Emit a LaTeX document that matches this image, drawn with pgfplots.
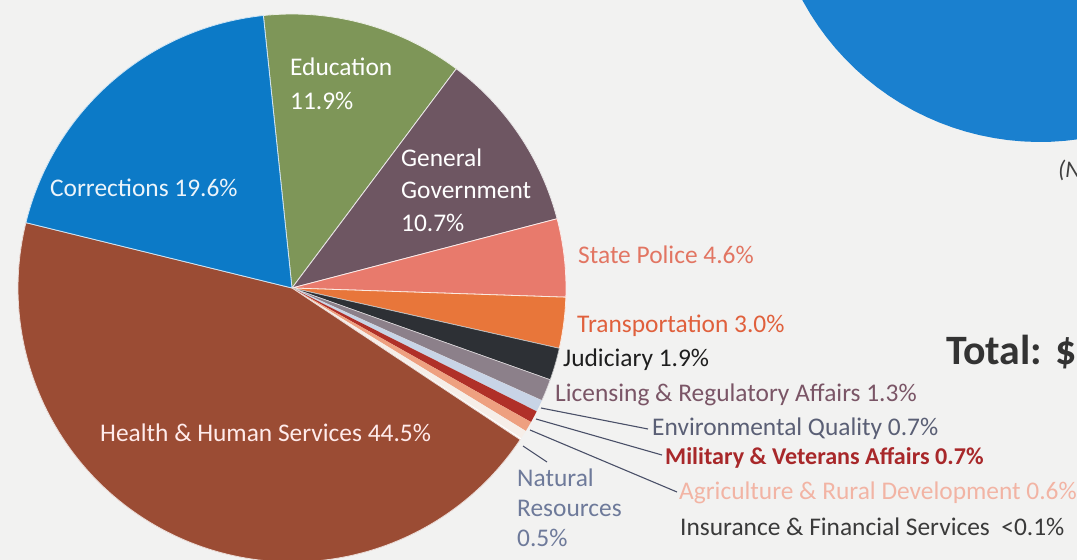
\documentclass[border=0pt]{standalone}
\usepackage{pgfplots}
\pgfplotsset{compat=1.18}
\usepackage{fontspec}
\setmainfont{Carlito}
\definecolor{bg}{RGB}{242,242,241}
\definecolor{cCor}{RGB}{12,122,199}
\definecolor{cEdu}{RGB}{126,150,88}
\definecolor{cGG}{RGB}{110,86,98}
\definecolor{cSP}{RGB}{232,122,108}
\definecolor{cTr}{RGB}{232,118,58}
\definecolor{cJud}{RGB}{45,48,53}
\definecolor{cLic}{RGB}{140,128,138}
\definecolor{cEnv}{RGB}{200,212,230}
\definecolor{cMil}{RGB}{176,48,40}
\definecolor{cAgr}{RGB}{238,160,128}
\definecolor{cNat}{RGB}{246,238,232}
\definecolor{cIns}{RGB}{255,255,255}
\definecolor{cHea}{RGB}{155,76,52}
\definecolor{cBlue}{RGB}{26,128,207}
\definecolor{tSP}{RGB}{226,117,98}
\definecolor{tTr}{RGB}{224,96,60}
\definecolor{tJud}{RGB}{30,30,30}
\definecolor{tLic}{RGB}{122,85,102}
\definecolor{tEnv}{RGB}{90,95,117}
\definecolor{tMil}{RGB}{168,40,42}
\definecolor{tAgr}{RGB}{242,180,164}
\definecolor{tIns}{RGB}{58,58,58}
\definecolor{tNat}{RGB}{110,122,154}
\definecolor{leader}{RGB}{74,80,104}
\begin{document}
\begin{tikzpicture}
% shares in percent, clockwise from the Corrections/Education boundary at 96 degrees
\pgfmathsetmacro\aA{96}
\pgfmathsetmacro\aB{\aA-11.9*3.6}% Education
\pgfmathsetmacro\aC{\aB-10.7*3.6}% General Government
\pgfmathsetmacro\aD{\aC-4.6*3.6}% State Police
\pgfmathsetmacro\aE{\aD-3.0*3.6}% Transportation
\pgfmathsetmacro\aF{\aE-1.9*3.6}% Judiciary
\pgfmathsetmacro\aG{\aF-1.3*3.6}% Licensing
\pgfmathsetmacro\aH{\aG-0.7*3.6}% Environmental Quality
\pgfmathsetmacro\aI{\aH-0.7*3.6}% Military
\pgfmathsetmacro\aJ{\aI-0.6*3.6}% Agriculture
\pgfmathsetmacro\aK{\aJ-0.5*3.6}% Natural Resources
\pgfmathsetmacro\aL{\aK-0.1*3.6}% Insurance
\pgfmathsetmacro\aM{\aL-44.5*3.6}% Health
\pgfmathsetmacro\aN{\aA-360}% Corrections (19.6)
\begin{axis}[scale only axis, width=1077bp, height=560bp,
  xmin=0, xmax=1077, ymin=0, ymax=560, y dir=reverse,
  hide axis, clip=false]
\fill[bg] (axis cs:0,0) rectangle (axis cs:1077,560);
\coordinate (BL) at (axis cs:0,560);
\coordinate (TR) at (axis cs:1077,0);
% other chart (cut off)
\addplot[fill=cBlue, draw=none, domain=0:360, samples=120] ({1040+270*cos(x)},{-128-270*sin(x)}) -- cycle;
% pie
\addplot[fill=cEdu, draw=white!85!cEdu, line width=0.8bp, domain=\aB:\aA, samples=40] ({292+274*cos(x)},{288-274*sin(x)}) -- (axis cs:292,288) -- cycle;
\addplot[fill=cGG, draw=white!85!cGG, line width=0.8bp, domain=\aC:\aB, samples=40] ({292+274*cos(x)},{288-274*sin(x)}) -- (axis cs:292,288) -- cycle;
\addplot[fill=cSP, draw=white!85!cSP, line width=0.8bp, domain=\aD:\aC, samples=20] ({292+274*cos(x)},{288-274*sin(x)}) -- (axis cs:292,288) -- cycle;
\addplot[fill=cTr, draw=white!85!cTr, line width=0.8bp, domain=\aE:\aD, samples=15] ({292+274*cos(x)},{288-274*sin(x)}) -- (axis cs:292,288) -- cycle;
\addplot[fill=cJud, draw=white!70!cJud, line width=0.6bp, domain=\aF:\aE, samples=10] ({292+274*cos(x)},{288-274*sin(x)}) -- (axis cs:292,288) -- cycle;
\addplot[fill=cLic, draw=white!70!cLic, line width=0.6bp, domain=\aG:\aF, samples=8] ({292+274*cos(x)},{288-274*sin(x)}) -- (axis cs:292,288) -- cycle;
\addplot[fill=cEnv, draw=none, domain=\aH:\aG, samples=5] ({292+274*cos(x)},{288-274*sin(x)}) -- (axis cs:292,288) -- cycle;
\addplot[fill=cMil, draw=none, domain=\aI:\aH, samples=5] ({292+274*cos(x)},{288-274*sin(x)}) -- (axis cs:292,288) -- cycle;
\addplot[fill=cAgr, draw=none, domain=\aJ:\aI, samples=5] ({292+274*cos(x)},{288-274*sin(x)}) -- (axis cs:292,288) -- cycle;
\addplot[fill=cNat, draw=none, domain=\aK:\aJ, samples=5] ({292+274*cos(x)},{288-274*sin(x)}) -- (axis cs:292,288) -- cycle;
\addplot[fill=cIns, draw=none, domain=\aL:\aK, samples=3] ({292+274*cos(x)},{288-274*sin(x)}) -- (axis cs:292,288) -- cycle;
\addplot[fill=cHea, draw=white!80!cHea, line width=0.8bp, domain=\aM:\aL, samples=120] ({292+274*cos(x)},{288-274*sin(x)}) -- (axis cs:292,288) -- cycle;
\addplot[fill=cCor, draw=white!80!cCor, line width=0.8bp, domain=\aN:\aM, samples=60] ({292+274*cos(x)},{288-274*sin(x)}) -- (axis cs:292,288) -- cycle;
% leader lines
\draw[leader, line width=1.1bp] (axis cs:541,408) -- (axis cs:648,429);
\draw[leader, line width=1.1bp] (axis cs:536,419) -- (axis cs:662,455);
\draw[leader, line width=1.1bp] (axis cs:530,430) -- (axis cs:677,492);
\draw[leader, line width=1.1bp] (axis cs:523,446) -- (axis cs:547,462);
% inside labels
\tikzset{lab/.style={inner sep=0pt, anchor=west, align=left, font=\fontsize{25.5}{33}\selectfont}}
\node[lab, text=white!92!cCor] at (axis cs:50,188) {Corrections 19.6\%};
\node[lab, text=white, font=\fontsize{25.5}{34}\selectfont] at (axis cs:290,84) {Education\\11.9\%};
\node[lab, text=white, font=\fontsize{25.5}{32.5}\selectfont] at (axis cs:401,190) {General\\Government\\10.7\%};
\node[lab, text=white!92!red] at (axis cs:100,433) {Health \& Human Services 44.5\%};
% outside labels
\node[lab, text=tSP] at (axis cs:578,255) {State Police 4.6\%};
\node[lab, text=tTr] at (axis cs:577,326) {Transportation 3.0\%};
\node[lab, text=tJud] at (axis cs:563,360) {Judiciary 1.9\%};
\node[lab, text=tLic] at (axis cs:555,395) {Licensing \& Regulatory Affairs 1.3\%};
\node[lab, text=tEnv] at (axis cs:652,429) {Environmental Quality 0.7\%};
\node[lab, text=tMil, font=\fontsize{24.2}{33}\selectfont\bfseries] at (axis cs:665,458) {Military \& Veterans Affairs 0.7\%};
\node[lab, text=tAgr] at (axis cs:679,493) {Agriculture \& Rural Development 0.6\%};
\node[lab, text=tIns] at (axis cs:680,527) {Insurance \& Financial Services \ <0.1\%};
\node[lab, text=tNat, font=\fontsize{25.5}{30}\selectfont] at (axis cs:517,508) {Natural\\Resources\\0.5\%};
\node[inner sep=0pt, anchor=west, text=black!80, font=\fontsize{42}{44}\selectfont\bfseries] at (axis cs:946,352) {Total: \$};
\node[inner sep=0pt, anchor=west, text=black!75, font=\fontsize{24}{28}\selectfont\itshape] at (axis cs:1058,170) {(N};
\end{axis}
\pgfresetboundingbox
\useasboundingbox (BL) rectangle (TR);
\end{tikzpicture}
\end{document}
